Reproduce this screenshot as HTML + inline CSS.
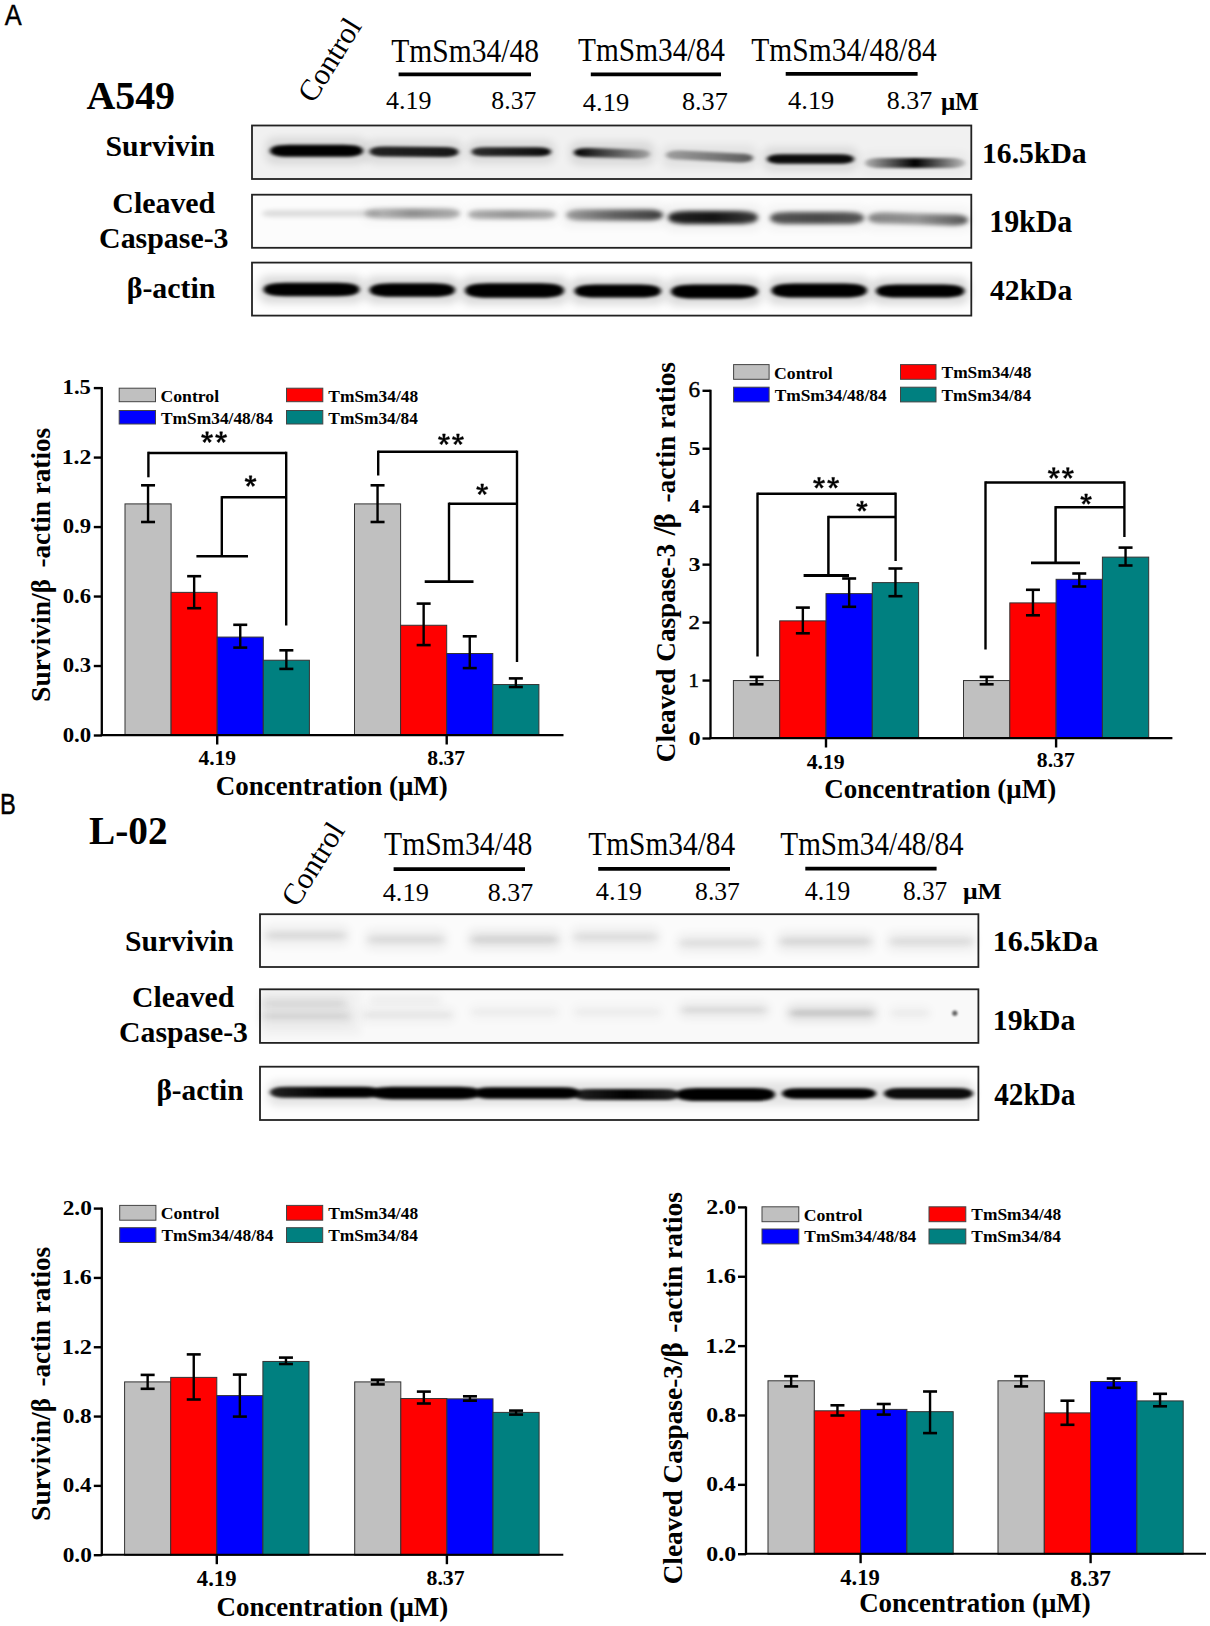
<!DOCTYPE html><html><head><meta charset="utf-8"><style>html,body{margin:0;padding:0;background:#fff}svg{display:block}</style></head><body>
<svg width="1210" height="1626" viewBox="0 0 1210 1626">
<defs><filter id="cb" x="-20%" y="-200%" width="140%" height="500%"><feGaussianBlur stdDeviation="2.2 1.4"/></filter><filter id="b1" x="-20%" y="-200%" width="140%" height="500%"><feGaussianBlur stdDeviation="2.2 1.6"/></filter><filter id="fb" x="-20%" y="-300%" width="140%" height="700%"><feGaussianBlur stdDeviation="3.5 2.6"/></filter><filter id="mb" x="-20%" y="-200%" width="140%" height="500%"><feGaussianBlur stdDeviation="2.6 2.0"/></filter><filter id="sb" x="-100%" y="-100%" width="300%" height="300%"><feGaussianBlur stdDeviation="1.2"/></filter><filter id="hb" x="-20%" y="-200%" width="140%" height="500%"><feGaussianBlur stdDeviation="5 4"/></filter></defs>
<rect width="1210" height="1626" fill="#fff"/>
<text transform="translate(4.87,24.80) scale(1,1.127)" font-family='"Liberation Sans", sans-serif' font-weight="normal" font-size="25.45" fill="#000" stroke="#000" stroke-width="0.35">A</text>
<text transform="translate(0.10,813.80) scale(1,1.264)" font-family='"Liberation Sans", sans-serif' font-weight="normal" font-size="23.74" fill="#000" stroke="#000" stroke-width="0.35">B</text>
<text x="86.40" y="109.20" font-family='"Liberation Serif", serif' font-weight="bold" font-size="39.91" fill="#000" >A549</text>
<g transform="translate(329.40,59.40) rotate(-58)"><text x="-46.51" y="10.34" font-family='"Liberation Serif", serif' font-weight="normal" font-size="30.20">Control</text></g>
<text transform="translate(391.31,62.07) scale(1,1.117)" font-family='"Liberation Serif", serif' font-weight="normal" font-size="29.57" fill="#000" >TmSm34/48</text>
<text transform="translate(578.11,61.26) scale(1,1.150)" font-family='"Liberation Serif", serif' font-weight="normal" font-size="29.37" fill="#000" >TmSm34/84</text>
<text transform="translate(751.31,61.26) scale(1,1.143)" font-family='"Liberation Serif", serif' font-weight="normal" font-size="29.54" fill="#000" >TmSm34/48/84</text>
<line x1="398.60" y1="74.30" x2="531.00" y2="74.30" stroke="#000" stroke-width="3.7"/>
<line x1="590.80" y1="74.40" x2="721.00" y2="74.40" stroke="#000" stroke-width="3.7"/>
<line x1="785.70" y1="73.80" x2="917.60" y2="73.80" stroke="#000" stroke-width="3.7"/>
<text transform="translate(385.98,109.12) scale(1,0.987)" font-family='"Liberation Serif", serif' font-weight="normal" font-size="25.98" fill="#000" >4.19</text>
<text transform="translate(491.37,109.12) scale(1,0.989)" font-family='"Liberation Serif", serif' font-weight="normal" font-size="25.71" fill="#000" >8.37</text>
<text transform="translate(582.77,110.62) scale(1,0.961)" font-family='"Liberation Serif", serif' font-weight="normal" font-size="26.51" fill="#000" >4.19</text>
<text x="681.95" y="110.31" font-family='"Liberation Serif", serif' font-weight="normal" font-size="26.19" fill="#000" >8.37</text>
<text transform="translate(788.07,108.83) scale(1,0.941)" font-family='"Liberation Serif", serif' font-weight="normal" font-size="26.45" fill="#000" >4.19</text>
<text transform="translate(886.76,108.83) scale(1,0.952)" font-family='"Liberation Serif", serif' font-weight="normal" font-size="25.95" fill="#000" >8.37</text>
<text transform="translate(940.92,109.57) scale(1,1.046)" font-family='"Liberation Serif", serif' font-weight="bold" font-size="25.05" fill="#000" >μM</text>
<rect x="252.00" y="125.50" width="719.30" height="53.50" fill="#f1f1f1" stroke="#222" stroke-width="1.8"/>
<rect x="252.00" y="194.70" width="719.30" height="53.10" fill="#fcfcfc" stroke="#222" stroke-width="1.8"/>
<rect x="252.00" y="262.60" width="719.30" height="53.00" fill="#fefefe" stroke="#222" stroke-width="1.8"/>
<linearGradient id="g1" x1="0" y1="0" x2="1" y2="0"><stop offset="0" stop-color="#000" stop-opacity="1.0"/><stop offset="1" stop-color="#000" stop-opacity="1.0"/></linearGradient>
<rect x="266.0" y="137.8" width="101.0" height="26.0" rx="8" fill="#000" opacity="0.100" filter="url(#hb)"/>
<path d="M270.0,150.8Q270.0,144.8 289.2,144.8L343.8,144.8Q363.0,144.8 363.0,150.8Q363.0,156.8 343.8,156.8L289.2,156.8Q270.0,156.8 270.0,150.8Z" fill="url(#g1)" filter="url(#cb)"/>
<linearGradient id="g2" x1="0" y1="0" x2="1" y2="0"><stop offset="0" stop-color="#000" stop-opacity="0.85"/><stop offset="1" stop-color="#000" stop-opacity="0.9"/></linearGradient>
<rect x="365.5" y="139.8" width="97.0" height="24.0" rx="8" fill="#000" opacity="0.090" filter="url(#hb)"/>
<path d="M369.5,151.5Q369.5,146.5 385.5,146.5L442.5,147.0Q458.5,147.0 458.5,152.0Q458.5,157.0 442.5,157.0L385.5,156.5Q369.5,156.5 369.5,151.5Z" fill="url(#g2)" filter="url(#cb)"/>
<linearGradient id="g3" x1="0" y1="0" x2="1" y2="0"><stop offset="0" stop-color="#000" stop-opacity="0.8"/><stop offset="1" stop-color="#000" stop-opacity="0.95"/></linearGradient>
<rect x="467.5" y="140.3" width="87.5" height="23.0" rx="8" fill="#000" opacity="0.095" filter="url(#hb)"/>
<path d="M471.5,151.8Q471.5,147.3 485.9,147.3L536.6,147.3Q551.0,147.3 551.0,151.8Q551.0,156.3 536.6,156.3L485.9,156.3Q471.5,156.3 471.5,151.8Z" fill="url(#g3)" filter="url(#cb)"/>
<linearGradient id="g4" x1="0" y1="0" x2="1" y2="0"><stop offset="0" stop-color="#000" stop-opacity="1.0"/><stop offset="1" stop-color="#000" stop-opacity="0.25"/></linearGradient>
<rect x="570.0" y="141.8" width="84.0" height="23.0" rx="8" fill="#000" opacity="0.100" filter="url(#hb)"/>
<path d="M574.0,152.5Q574.0,148.0 588.4,148.0L635.6,149.5Q650.0,149.5 650.0,154.0Q650.0,158.5 635.6,158.5L588.4,157.0Q574.0,157.0 574.0,152.5Z" fill="url(#g4)" filter="url(#cb)"/>
<linearGradient id="g5" x1="0" y1="0" x2="1" y2="0"><stop offset="0" stop-color="#000" stop-opacity="0.3"/><stop offset="1" stop-color="#000" stop-opacity="0.6"/></linearGradient>
<rect x="662.0" y="145.0" width="95.0" height="23.0" rx="8" fill="#000" opacity="0.060" filter="url(#hb)"/>
<path d="M666.0,155.0Q666.0,150.5 680.4,150.5L738.6,153.5Q753.0,153.5 753.0,158.0Q753.0,162.5 738.6,162.5L680.4,159.5Q666.0,159.5 666.0,155.0Z" fill="url(#g5)" filter="url(#cb)"/>
<linearGradient id="g6" x1="0" y1="0" x2="1" y2="0"><stop offset="0" stop-color="#000" stop-opacity="0.95"/><stop offset="1" stop-color="#000" stop-opacity="0.95"/></linearGradient>
<rect x="763.0" y="147.2" width="95.0" height="23.5" rx="8" fill="#000" opacity="0.095" filter="url(#hb)"/>
<path d="M767.0,159.0Q767.0,154.2 782.2,154.2L838.8,154.2Q854.0,154.2 854.0,159.0Q854.0,163.8 838.8,163.8L782.2,163.8Q767.0,163.8 767.0,159.0Z" fill="url(#g6)" filter="url(#cb)"/>
<linearGradient id="g7" x1="0" y1="0" x2="1" y2="0"><stop offset="0" stop-color="#000" stop-opacity="0.25"/><stop offset="0.5" stop-color="#000" stop-opacity="1.0"/><stop offset="1" stop-color="#000" stop-opacity="0.2"/></linearGradient>
<rect x="861.0" y="151.0" width="108.0" height="24.0" rx="8" fill="#000" opacity="0.025" filter="url(#hb)"/>
<path d="M865.0,163.0Q865.0,158.0 881.0,158.0L949.0,158.0Q965.0,158.0 965.0,163.0Q965.0,168.0 949.0,168.0L881.0,168.0Q865.0,168.0 865.0,163.0Z" fill="url(#g7)" filter="url(#cb)"/>
<linearGradient id="g8" x1="0" y1="0" x2="1" y2="0"><stop offset="0" stop-color="#000" stop-opacity="0.12"/><stop offset="1" stop-color="#000" stop-opacity="0.12"/></linearGradient>
<path d="M262.0,213.5Q262.0,210.0 273.2,210.0L368.8,210.0Q380.0,210.0 380.0,213.5Q380.0,217.0 368.8,217.0L273.2,217.0Q262.0,217.0 262.0,213.5Z" fill="url(#g8)" filter="url(#mb)"/>
<linearGradient id="g9" x1="0" y1="0" x2="1" y2="0"><stop offset="0" stop-color="#000" stop-opacity="0.22"/><stop offset="0.5" stop-color="#000" stop-opacity="0.42"/><stop offset="1" stop-color="#000" stop-opacity="0.3"/></linearGradient>
<rect x="361.0" y="201.5" width="103.0" height="24.0" rx="8" fill="#000" opacity="0.015" filter="url(#hb)"/>
<path d="M365.0,213.5Q365.0,208.5 381.0,208.5L444.0,208.5Q460.0,208.5 460.0,213.5Q460.0,218.5 444.0,218.5L381.0,218.5Q365.0,218.5 365.0,213.5Z" fill="url(#g9)" filter="url(#mb)"/>
<linearGradient id="g10" x1="0" y1="0" x2="1" y2="0"><stop offset="0" stop-color="#000" stop-opacity="0.3"/><stop offset="0.5" stop-color="#000" stop-opacity="0.4"/><stop offset="1" stop-color="#000" stop-opacity="0.3"/></linearGradient>
<rect x="464.0" y="203.0" width="96.0" height="23.0" rx="8" fill="#000" opacity="0.015" filter="url(#hb)"/>
<path d="M468.0,214.5Q468.0,210.0 482.4,210.0L541.6,210.0Q556.0,210.0 556.0,214.5Q556.0,219.0 541.6,219.0L482.4,219.0Q468.0,219.0 468.0,214.5Z" fill="url(#g10)" filter="url(#mb)"/>
<linearGradient id="g11" x1="0" y1="0" x2="1" y2="0"><stop offset="0" stop-color="#000" stop-opacity="0.35"/><stop offset="0.5" stop-color="#000" stop-opacity="0.6"/><stop offset="1" stop-color="#000" stop-opacity="0.75"/></linearGradient>
<rect x="562.0" y="202.5" width="105.0" height="25.0" rx="8" fill="#000" opacity="0.038" filter="url(#hb)"/>
<path d="M566.0,215.0Q566.0,209.5 583.6,209.5L645.4,209.5Q663.0,209.5 663.0,215.0Q663.0,220.5 645.4,220.5L583.6,220.5Q566.0,220.5 566.0,215.0Z" fill="url(#g11)" filter="url(#mb)"/>
<linearGradient id="g12" x1="0" y1="0" x2="1" y2="0"><stop offset="0" stop-color="#000" stop-opacity="0.85"/><stop offset="0.5" stop-color="#000" stop-opacity="0.92"/><stop offset="1" stop-color="#000" stop-opacity="0.75"/></linearGradient>
<rect x="664.0" y="204.0" width="98.0" height="27.0" rx="8" fill="#000" opacity="0.043" filter="url(#hb)"/>
<path d="M668.0,217.5Q668.0,211.0 688.8,211.0L737.2,211.0Q758.0,211.0 758.0,217.5Q758.0,224.0 737.2,224.0L688.8,224.0Q668.0,224.0 668.0,217.5Z" fill="url(#g12)" filter="url(#mb)"/>
<linearGradient id="g13" x1="0" y1="0" x2="1" y2="0"><stop offset="0" stop-color="#000" stop-opacity="0.65"/><stop offset="0.5" stop-color="#000" stop-opacity="0.7"/><stop offset="1" stop-color="#000" stop-opacity="0.65"/></linearGradient>
<rect x="766.0" y="205.0" width="102.0" height="26.0" rx="8" fill="#000" opacity="0.033" filter="url(#hb)"/>
<path d="M770.0,218.0Q770.0,212.0 789.2,212.0L844.8,212.0Q864.0,212.0 864.0,218.0Q864.0,224.0 844.8,224.0L789.2,224.0Q770.0,224.0 770.0,218.0Z" fill="url(#g13)" filter="url(#mb)"/>
<linearGradient id="g14" x1="0" y1="0" x2="1" y2="0"><stop offset="0" stop-color="#000" stop-opacity="0.45"/><stop offset="0.5" stop-color="#000" stop-opacity="0.4"/><stop offset="1" stop-color="#000" stop-opacity="0.65"/></linearGradient>
<rect x="864.0" y="206.5" width="108.0" height="25.0" rx="8" fill="#000" opacity="0.033" filter="url(#hb)"/>
<path d="M868.0,218.0Q868.0,212.5 885.6,212.5L950.4,214.5Q968.0,214.5 968.0,220.0Q968.0,225.5 950.4,225.5L885.6,223.5Q868.0,223.5 868.0,218.0Z" fill="url(#g14)" filter="url(#mb)"/>
<linearGradient id="g15" x1="0" y1="0" x2="1" y2="0"><stop offset="0" stop-color="#000" stop-opacity="1.0"/><stop offset="1" stop-color="#000" stop-opacity="1.0"/></linearGradient>
<rect x="259.5" y="275.8" width="104.0" height="27.5" rx="8" fill="#000" opacity="0.140" filter="url(#hb)"/>
<path d="M263.5,289.5Q263.5,282.8 285.1,282.8L337.9,282.8Q359.5,282.8 359.5,289.5Q359.5,296.2 337.9,296.2L285.1,296.2Q263.5,296.2 263.5,289.5Z" fill="url(#g15)" filter="url(#cb)"/>
<linearGradient id="g16" x1="0" y1="0" x2="1" y2="0"><stop offset="0" stop-color="#000" stop-opacity="1.0"/><stop offset="1" stop-color="#000" stop-opacity="1.0"/></linearGradient>
<rect x="365.5" y="276.2" width="93.5" height="27.5" rx="8" fill="#000" opacity="0.140" filter="url(#hb)"/>
<path d="M369.5,290.0Q369.5,283.2 391.1,283.2L433.4,283.2Q455.0,283.2 455.0,290.0Q455.0,296.8 433.4,296.8L391.1,296.8Q369.5,296.8 369.5,290.0Z" fill="url(#g16)" filter="url(#cb)"/>
<linearGradient id="g17" x1="0" y1="0" x2="1" y2="0"><stop offset="0" stop-color="#000" stop-opacity="1.0"/><stop offset="1" stop-color="#000" stop-opacity="1.0"/></linearGradient>
<rect x="461.0" y="276.2" width="107.0" height="28.5" rx="8" fill="#000" opacity="0.140" filter="url(#hb)"/>
<path d="M465.0,290.5Q465.0,283.2 488.2,283.2L540.8,283.2Q564.0,283.2 564.0,290.5Q564.0,297.8 540.8,297.8L488.2,297.8Q465.0,297.8 465.0,290.5Z" fill="url(#g17)" filter="url(#cb)"/>
<linearGradient id="g18" x1="0" y1="0" x2="1" y2="0"><stop offset="0" stop-color="#000" stop-opacity="1.0"/><stop offset="1" stop-color="#000" stop-opacity="1.0"/></linearGradient>
<rect x="570.5" y="277.5" width="94.5" height="27.0" rx="8" fill="#000" opacity="0.140" filter="url(#hb)"/>
<path d="M574.5,291.0Q574.5,284.5 595.3,284.5L640.2,284.5Q661.0,284.5 661.0,291.0Q661.0,297.5 640.2,297.5L595.3,297.5Q574.5,297.5 574.5,291.0Z" fill="url(#g18)" filter="url(#cb)"/>
<linearGradient id="g19" x1="0" y1="0" x2="1" y2="0"><stop offset="0" stop-color="#000" stop-opacity="1.0"/><stop offset="1" stop-color="#000" stop-opacity="1.0"/></linearGradient>
<rect x="667.0" y="277.5" width="95.0" height="28.0" rx="8" fill="#000" opacity="0.140" filter="url(#hb)"/>
<path d="M671.0,291.5Q671.0,284.5 693.4,284.5L735.6,284.5Q758.0,284.5 758.0,291.5Q758.0,298.5 735.6,298.5L693.4,298.5Q671.0,298.5 671.0,291.5Z" fill="url(#g19)" filter="url(#cb)"/>
<linearGradient id="g20" x1="0" y1="0" x2="1" y2="0"><stop offset="0" stop-color="#000" stop-opacity="1.0"/><stop offset="1" stop-color="#000" stop-opacity="1.0"/></linearGradient>
<rect x="767.5" y="276.5" width="103.5" height="28.0" rx="8" fill="#000" opacity="0.140" filter="url(#hb)"/>
<path d="M771.5,290.5Q771.5,283.5 793.9,283.5L844.6,283.5Q867.0,283.5 867.0,290.5Q867.0,297.5 844.6,297.5L793.9,297.5Q771.5,297.5 771.5,290.5Z" fill="url(#g20)" filter="url(#cb)"/>
<linearGradient id="g21" x1="0" y1="0" x2="1" y2="0"><stop offset="0" stop-color="#000" stop-opacity="1.0"/><stop offset="1" stop-color="#000" stop-opacity="1.0"/></linearGradient>
<rect x="872.0" y="277.5" width="96.5" height="27.0" rx="8" fill="#000" opacity="0.140" filter="url(#hb)"/>
<path d="M876.0,291.0Q876.0,284.5 896.8,284.5L943.7,284.5Q964.5,284.5 964.5,291.0Q964.5,297.5 943.7,297.5L896.8,297.5Q876.0,297.5 876.0,291.0Z" fill="url(#g21)" filter="url(#cb)"/>
<text x="105.56" y="156.31" font-family='"Liberation Serif", serif' font-weight="bold" font-size="29.79" fill="#000" >Survivin</text>
<text x="112.31" y="212.78" font-family='"Liberation Serif", serif' font-weight="bold" font-size="29.90" fill="#000" >Cleaved</text>
<text x="99.11" y="247.51" font-family='"Liberation Serif", serif' font-weight="bold" font-size="29.86" fill="#000" >Caspase-3</text>
<text x="126.66" y="297.78" font-family='"Liberation Serif", serif' font-weight="bold" font-size="29.90" fill="#000" >β-actin</text>
<text x="982.03" y="162.75" font-family='"Liberation Serif", serif' font-weight="bold" font-size="29.67" fill="#000" >16.5kDa</text>
<text transform="translate(989.21,232.09) scale(1,1.024)" font-family='"Liberation Serif", serif' font-weight="bold" font-size="29.91" fill="#000" >19kDa</text>
<text transform="translate(990.06,299.70) scale(1,1.011)" font-family='"Liberation Serif", serif' font-weight="bold" font-size="29.60" fill="#000" >42kDa</text>
<text transform="translate(88.91,843.99) scale(1,1.032)" font-family='"Liberation Serif", serif' font-weight="bold" font-size="39.33" fill="#000" >L-02</text>
<g transform="translate(312.80,863.60) rotate(-58)"><text x="-46.35" y="10.31" font-family='"Liberation Serif", serif' font-weight="normal" font-size="30.10">Control</text></g>
<text transform="translate(384.11,855.16) scale(1,1.153)" font-family='"Liberation Serif", serif' font-weight="normal" font-size="29.68" fill="#000" >TmSm34/48</text>
<text transform="translate(588.31,855.16) scale(1,1.165)" font-family='"Liberation Serif", serif' font-weight="normal" font-size="29.39" fill="#000" >TmSm34/84</text>
<text transform="translate(780.32,855.07) scale(1,1.141)" font-family='"Liberation Serif", serif' font-weight="normal" font-size="29.22" fill="#000" >TmSm34/48/84</text>
<line x1="393.60" y1="869.10" x2="525.00" y2="869.10" stroke="#000" stroke-width="3.8"/>
<line x1="598.20" y1="868.90" x2="730.00" y2="868.90" stroke="#000" stroke-width="3.8"/>
<line x1="805.30" y1="868.60" x2="936.60" y2="868.60" stroke="#000" stroke-width="3.8"/>
<text transform="translate(382.67,900.54) scale(1,0.921)" font-family='"Liberation Serif", serif' font-weight="normal" font-size="26.39" fill="#000" >4.19</text>
<text transform="translate(487.76,900.53) scale(1,0.946)" font-family='"Liberation Serif", serif' font-weight="normal" font-size="25.95" fill="#000" >8.37</text>
<text transform="translate(595.87,899.72) scale(1,0.960)" font-family='"Liberation Serif", serif' font-weight="normal" font-size="26.39" fill="#000" >4.19</text>
<text transform="translate(695.07,899.71) scale(1,1.020)" font-family='"Liberation Serif", serif' font-weight="normal" font-size="25.65" fill="#000" >8.37</text>
<text transform="translate(804.78,900.00) scale(1,1.019)" font-family='"Liberation Serif", serif' font-weight="normal" font-size="26.04" fill="#000" >4.19</text>
<text transform="translate(902.89,900.01) scale(1,1.038)" font-family='"Liberation Serif", serif' font-weight="normal" font-size="25.36" fill="#000" >8.37</text>
<text transform="translate(963.02,899.16) scale(1,0.932)" font-family='"Liberation Serif", serif' font-weight="bold" font-size="25.67" fill="#000" >μM</text>
<rect x="260.00" y="914.20" width="718.40" height="52.80" fill="#fbfbfb" stroke="#222" stroke-width="1.8"/>
<rect x="260.00" y="989.30" width="718.40" height="53.60" fill="#f9f9f9" stroke="#222" stroke-width="1.8"/>
<rect x="260.00" y="1066.70" width="718.40" height="53.30" fill="#fefefe" stroke="#222" stroke-width="1.8"/>
<linearGradient id="g22" x1="0" y1="0" x2="1" y2="0"><stop offset="0" stop-color="#000" stop-opacity="0.08"/><stop offset="1" stop-color="#000" stop-opacity="0.08"/></linearGradient>
<rect x="262.0" y="924.5" width="88.0" height="22.0" rx="8" fill="#000" opacity="0.048" filter="url(#hb)"/>
<path d="M266.0,935.5Q266.0,931.5 278.8,931.5L333.2,931.5Q346.0,931.5 346.0,935.5Q346.0,939.5 333.2,939.5L278.8,939.5Q266.0,939.5 266.0,935.5Z" fill="url(#g22)" filter="url(#fb)"/>
<linearGradient id="g23" x1="0" y1="0" x2="1" y2="0"><stop offset="0" stop-color="#000" stop-opacity="0.08"/><stop offset="1" stop-color="#000" stop-opacity="0.08"/></linearGradient>
<rect x="364.0" y="928.5" width="84.0" height="22.0" rx="8" fill="#000" opacity="0.048" filter="url(#hb)"/>
<path d="M368.0,939.5Q368.0,935.5 380.8,935.5L431.2,935.5Q444.0,935.5 444.0,939.5Q444.0,943.5 431.2,943.5L380.8,943.5Q368.0,943.5 368.0,939.5Z" fill="url(#g23)" filter="url(#fb)"/>
<linearGradient id="g24" x1="0" y1="0" x2="1" y2="0"><stop offset="0" stop-color="#000" stop-opacity="0.095"/><stop offset="1" stop-color="#000" stop-opacity="0.095"/></linearGradient>
<rect x="467.0" y="928.5" width="95.0" height="22.0" rx="8" fill="#000" opacity="0.057" filter="url(#hb)"/>
<path d="M471.0,939.5Q471.0,935.5 483.8,935.5L545.2,935.5Q558.0,935.5 558.0,939.5Q558.0,943.5 545.2,943.5L483.8,943.5Q471.0,943.5 471.0,939.5Z" fill="url(#g24)" filter="url(#fb)"/>
<linearGradient id="g25" x1="0" y1="0" x2="1" y2="0"><stop offset="0" stop-color="#000" stop-opacity="0.07"/><stop offset="1" stop-color="#000" stop-opacity="0.07"/></linearGradient>
<rect x="570.0" y="926.0" width="91.0" height="22.0" rx="8" fill="#000" opacity="0.042" filter="url(#hb)"/>
<path d="M574.0,937.0Q574.0,933.0 586.8,933.0L644.2,933.0Q657.0,933.0 657.0,937.0Q657.0,941.0 644.2,941.0L586.8,941.0Q574.0,941.0 574.0,937.0Z" fill="url(#g25)" filter="url(#fb)"/>
<linearGradient id="g26" x1="0" y1="0" x2="1" y2="0"><stop offset="0" stop-color="#000" stop-opacity="0.07"/><stop offset="1" stop-color="#000" stop-opacity="0.07"/></linearGradient>
<rect x="676.0" y="932.5" width="88.0" height="21.0" rx="8" fill="#000" opacity="0.042" filter="url(#hb)"/>
<path d="M680.0,943.0Q680.0,939.5 691.2,939.5L748.8,939.5Q760.0,939.5 760.0,943.0Q760.0,946.5 748.8,946.5L691.2,946.5Q680.0,946.5 680.0,943.0Z" fill="url(#g26)" filter="url(#fb)"/>
<linearGradient id="g27" x1="0" y1="0" x2="1" y2="0"><stop offset="0" stop-color="#000" stop-opacity="0.085"/><stop offset="1" stop-color="#000" stop-opacity="0.085"/></linearGradient>
<rect x="776.0" y="930.5" width="99.0" height="22.0" rx="8" fill="#000" opacity="0.051" filter="url(#hb)"/>
<path d="M780.0,941.5Q780.0,937.5 792.8,937.5L858.2,937.5Q871.0,937.5 871.0,941.5Q871.0,945.5 858.2,945.5L792.8,945.5Q780.0,945.5 780.0,941.5Z" fill="url(#g27)" filter="url(#fb)"/>
<linearGradient id="g28" x1="0" y1="0" x2="1" y2="0"><stop offset="0" stop-color="#000" stop-opacity="0.075"/><stop offset="1" stop-color="#000" stop-opacity="0.075"/></linearGradient>
<rect x="886.0" y="930.5" width="91.0" height="22.0" rx="8" fill="#000" opacity="0.045" filter="url(#hb)"/>
<path d="M890.0,941.5Q890.0,937.5 902.8,937.5L960.2,937.5Q973.0,937.5 973.0,941.5Q973.0,945.5 960.2,945.5L902.8,945.5Q890.0,945.5 890.0,941.5Z" fill="url(#g28)" filter="url(#fb)"/>
<rect x="261.00" y="990.50" width="100.00" height="45.00" fill="#000" opacity="0.03" filter="url(#hb)"/>
<linearGradient id="g29" x1="0" y1="0" x2="1" y2="0"><stop offset="0" stop-color="#000" stop-opacity="0.06"/><stop offset="1" stop-color="#000" stop-opacity="0.06"/></linearGradient>
<rect x="258.0" y="992.5" width="91.0" height="21.0" rx="8" fill="#000" opacity="0.030" filter="url(#hb)"/>
<path d="M262.0,1003.0Q262.0,999.5 273.2,999.5L333.8,999.5Q345.0,999.5 345.0,1003.0Q345.0,1006.5 333.8,1006.5L273.2,1006.5Q262.0,1006.5 262.0,1003.0Z" fill="url(#g29)" filter="url(#fb)"/>
<linearGradient id="g30" x1="0" y1="0" x2="1" y2="0"><stop offset="0" stop-color="#000" stop-opacity="0.08"/><stop offset="1" stop-color="#000" stop-opacity="0.08"/></linearGradient>
<rect x="258.0" y="1007.0" width="96.0" height="19.0" rx="8" fill="#000" opacity="0.040" filter="url(#hb)"/>
<path d="M262.0,1016.5Q262.0,1014.0 270.0,1014.0L342.0,1014.0Q350.0,1014.0 350.0,1016.5Q350.0,1019.0 342.0,1019.0L270.0,1019.0Q262.0,1019.0 262.0,1016.5Z" fill="url(#g30)" filter="url(#fb)"/>
<linearGradient id="g31" x1="0" y1="0" x2="1" y2="0"><stop offset="0" stop-color="#000" stop-opacity="0.06"/><stop offset="1" stop-color="#000" stop-opacity="0.06"/></linearGradient>
<rect x="360.0" y="1006.0" width="96.0" height="18.0" rx="8" fill="#000" opacity="0.030" filter="url(#hb)"/>
<path d="M364.0,1015.0Q364.0,1013.0 370.4,1013.0L445.6,1013.0Q452.0,1013.0 452.0,1015.0Q452.0,1017.0 445.6,1017.0L370.4,1017.0Q364.0,1017.0 364.0,1015.0Z" fill="url(#g31)" filter="url(#fb)"/>
<linearGradient id="g32" x1="0" y1="0" x2="1" y2="0"><stop offset="0" stop-color="#000" stop-opacity="0.03"/><stop offset="1" stop-color="#000" stop-opacity="0.03"/></linearGradient>
<rect x="366.0" y="990.5" width="78.0" height="19.0" rx="8" fill="#000" opacity="0.015" filter="url(#hb)"/>
<path d="M370.0,1000.0Q370.0,997.5 378.0,997.5L432.0,997.5Q440.0,997.5 440.0,1000.0Q440.0,1002.5 432.0,1002.5L378.0,1002.5Q370.0,1002.5 370.0,1000.0Z" fill="url(#g32)" filter="url(#fb)"/>
<linearGradient id="g33" x1="0" y1="0" x2="1" y2="0"><stop offset="0" stop-color="#000" stop-opacity="0.04"/><stop offset="1" stop-color="#000" stop-opacity="0.04"/></linearGradient>
<rect x="468.0" y="1003.0" width="93.0" height="18.0" rx="8" fill="#000" opacity="0.020" filter="url(#hb)"/>
<path d="M472.0,1012.0Q472.0,1010.0 478.4,1010.0L550.6,1010.0Q557.0,1010.0 557.0,1012.0Q557.0,1014.0 550.6,1014.0L478.4,1014.0Q472.0,1014.0 472.0,1012.0Z" fill="url(#g33)" filter="url(#fb)"/>
<linearGradient id="g34" x1="0" y1="0" x2="1" y2="0"><stop offset="0" stop-color="#000" stop-opacity="0.04"/><stop offset="1" stop-color="#000" stop-opacity="0.04"/></linearGradient>
<rect x="571.0" y="1003.0" width="93.0" height="18.0" rx="8" fill="#000" opacity="0.020" filter="url(#hb)"/>
<path d="M575.0,1012.0Q575.0,1010.0 581.4,1010.0L653.6,1010.0Q660.0,1010.0 660.0,1012.0Q660.0,1014.0 653.6,1014.0L581.4,1014.0Q575.0,1014.0 575.0,1012.0Z" fill="url(#g34)" filter="url(#fb)"/>
<linearGradient id="g35" x1="0" y1="0" x2="1" y2="0"><stop offset="0" stop-color="#000" stop-opacity="0.1"/><stop offset="1" stop-color="#000" stop-opacity="0.1"/></linearGradient>
<rect x="678.0" y="1001.0" width="92.0" height="18.0" rx="8" fill="#000" opacity="0.050" filter="url(#hb)"/>
<path d="M682.0,1010.0Q682.0,1008.0 688.4,1008.0L759.6,1008.0Q766.0,1008.0 766.0,1010.0Q766.0,1012.0 759.6,1012.0L688.4,1012.0Q682.0,1012.0 682.0,1010.0Z" fill="url(#g35)" filter="url(#fb)"/>
<linearGradient id="g36" x1="0" y1="0" x2="1" y2="0"><stop offset="0" stop-color="#000" stop-opacity="0.16"/><stop offset="1" stop-color="#000" stop-opacity="0.16"/></linearGradient>
<rect x="786.0" y="1003.5" width="92.0" height="19.0" rx="8" fill="#000" opacity="0.080" filter="url(#hb)"/>
<path d="M790.0,1013.0Q790.0,1010.5 798.0,1010.5L866.0,1010.5Q874.0,1010.5 874.0,1013.0Q874.0,1015.5 866.0,1015.5L798.0,1015.5Q790.0,1015.5 790.0,1013.0Z" fill="url(#g36)" filter="url(#fb)"/>
<linearGradient id="g37" x1="0" y1="0" x2="1" y2="0"><stop offset="0" stop-color="#000" stop-opacity="0.05"/><stop offset="1" stop-color="#000" stop-opacity="0.05"/></linearGradient>
<rect x="888.0" y="1004.5" width="44.0" height="17.0" rx="8" fill="#000" opacity="0.025" filter="url(#hb)"/>
<path d="M892.0,1013.0Q892.0,1011.5 896.8,1011.5L923.2,1011.5Q928.0,1011.5 928.0,1013.0Q928.0,1014.5 923.2,1014.5L896.8,1014.5Q892.0,1014.5 892.0,1013.0Z" fill="url(#g37)" filter="url(#fb)"/>
<circle cx="954.8" cy="1013.2" r="2.6" fill="#000" opacity="0.6" filter="url(#sb)"/>
<rect x="268" y="1081" width="706" height="25" rx="8" fill="#000" opacity="0.1" filter="url(#hb)"/>
<linearGradient id="g38" x1="0" y1="0" x2="1" y2="0"><stop offset="0" stop-color="#000" stop-opacity="0.85"/><stop offset="0.5" stop-color="#000" stop-opacity="1.0"/><stop offset="1" stop-color="#000" stop-opacity="1.0"/></linearGradient>
<path d="M270.0,1092.2Q270.0,1086.7 287.6,1086.7L362.4,1086.7Q380.0,1086.7 380.0,1092.2Q380.0,1097.7 362.4,1097.7L287.6,1097.7Q270.0,1097.7 270.0,1092.2Z" fill="url(#g38)" filter="url(#cb)"/>
<linearGradient id="g39" x1="0" y1="0" x2="1" y2="0"><stop offset="0" stop-color="#000" stop-opacity="1.0"/><stop offset="1" stop-color="#000" stop-opacity="1.0"/></linearGradient>
<path d="M372.0,1093.0Q372.0,1086.8 392.0,1086.8L460.0,1086.8Q480.0,1086.8 480.0,1093.0Q480.0,1099.2 460.0,1099.2L392.0,1099.2Q372.0,1099.2 372.0,1093.0Z" fill="url(#g39)" filter="url(#cb)"/>
<linearGradient id="g40" x1="0" y1="0" x2="1" y2="0"><stop offset="0" stop-color="#000" stop-opacity="1.0"/><stop offset="1" stop-color="#000" stop-opacity="1.0"/></linearGradient>
<path d="M474.0,1093.0Q474.0,1087.2 492.4,1087.2L561.6,1087.2Q580.0,1087.2 580.0,1093.0Q580.0,1098.8 561.6,1098.8L492.4,1098.8Q474.0,1098.8 474.0,1093.0Z" fill="url(#g40)" filter="url(#cb)"/>
<linearGradient id="g41" x1="0" y1="0" x2="1" y2="0"><stop offset="0" stop-color="#000" stop-opacity="0.85"/><stop offset="0.5" stop-color="#000" stop-opacity="1.0"/><stop offset="1" stop-color="#000" stop-opacity="0.85"/></linearGradient>
<path d="M574.0,1094.5Q574.0,1089.0 591.6,1089.0L662.4,1089.0Q680.0,1089.0 680.0,1094.5Q680.0,1100.0 662.4,1100.0L591.6,1100.0Q574.0,1100.0 574.0,1094.5Z" fill="url(#g41)" filter="url(#cb)"/>
<linearGradient id="g42" x1="0" y1="0" x2="1" y2="0"><stop offset="0" stop-color="#000" stop-opacity="1.0"/><stop offset="1" stop-color="#000" stop-opacity="1.0"/></linearGradient>
<path d="M676.0,1094.5Q676.0,1088.0 696.8,1088.0L754.2,1088.0Q775.0,1088.0 775.0,1094.5Q775.0,1101.0 754.2,1101.0L696.8,1101.0Q676.0,1101.0 676.0,1094.5Z" fill="url(#g42)" filter="url(#cb)"/>
<linearGradient id="g43" x1="0" y1="0" x2="1" y2="0"><stop offset="0" stop-color="#000" stop-opacity="1.0"/><stop offset="1" stop-color="#000" stop-opacity="1.0"/></linearGradient>
<path d="M782.0,1093.5Q782.0,1088.2 798.8,1088.2L859.2,1088.2Q876.0,1088.2 876.0,1093.5Q876.0,1098.8 859.2,1098.8L798.8,1098.8Q782.0,1098.8 782.0,1093.5Z" fill="url(#g43)" filter="url(#cb)"/>
<linearGradient id="g44" x1="0" y1="0" x2="1" y2="0"><stop offset="0" stop-color="#000" stop-opacity="0.95"/><stop offset="1" stop-color="#000" stop-opacity="0.95"/></linearGradient>
<path d="M884.0,1093.5Q884.0,1088.0 901.6,1088.0L955.4,1088.0Q973.0,1088.0 973.0,1093.5Q973.0,1099.0 955.4,1099.0L901.6,1099.0Q884.0,1099.0 884.0,1093.5Z" fill="url(#g44)" filter="url(#cb)"/>
<text x="124.97" y="950.61" font-family='"Liberation Serif", serif' font-weight="bold" font-size="29.65" fill="#000" >Survivin</text>
<text x="132.02" y="1006.63" font-family='"Liberation Serif", serif' font-weight="bold" font-size="29.69" fill="#000" >Cleaved</text>
<text x="119.11" y="1042.13" font-family='"Liberation Serif", serif' font-weight="bold" font-size="29.74" fill="#000" >Caspase-3</text>
<text x="156.39" y="1100.29" font-family='"Liberation Serif", serif' font-weight="bold" font-size="29.34" fill="#000" >β-actin</text>
<text x="992.81" y="950.76" font-family='"Liberation Serif", serif' font-weight="bold" font-size="29.87" fill="#000" >16.5kDa</text>
<text x="992.82" y="1029.50" font-family='"Liberation Serif", serif' font-weight="bold" font-size="29.72" fill="#000" >19kDa</text>
<text transform="translate(994.16,1104.99) scale(1,1.048)" font-family='"Liberation Serif", serif' font-weight="bold" font-size="29.24" fill="#000" >42kDa</text>
<rect x="125.00" y="503.90" width="46.10" height="231.60" fill="#c0c0c0" stroke="#333" stroke-width="1"/>
<rect x="171.10" y="592.37" width="46.10" height="143.13" fill="#ff0000" stroke="#333" stroke-width="1"/>
<rect x="217.20" y="637.07" width="46.10" height="98.43" fill="#0000ff" stroke="#333" stroke-width="1"/>
<rect x="263.30" y="660.23" width="46.10" height="75.27" fill="#008080" stroke="#333" stroke-width="1"/>
<line x1="148.05" y1="485.30" x2="148.05" y2="522.00" stroke="#000" stroke-width="2.4"/>
<line x1="141.05" y1="485.30" x2="155.05" y2="485.30" stroke="#000" stroke-width="2.6"/>
<line x1="141.05" y1="522.00" x2="155.05" y2="522.00" stroke="#000" stroke-width="2.6"/>
<line x1="194.15" y1="576.20" x2="194.15" y2="608.20" stroke="#000" stroke-width="2.4"/>
<line x1="187.15" y1="576.20" x2="201.15" y2="576.20" stroke="#000" stroke-width="2.6"/>
<line x1="187.15" y1="608.20" x2="201.15" y2="608.20" stroke="#000" stroke-width="2.6"/>
<line x1="240.25" y1="624.80" x2="240.25" y2="647.60" stroke="#000" stroke-width="2.4"/>
<line x1="233.25" y1="624.80" x2="247.25" y2="624.80" stroke="#000" stroke-width="2.6"/>
<line x1="233.25" y1="647.60" x2="247.25" y2="647.60" stroke="#000" stroke-width="2.6"/>
<line x1="286.35" y1="650.30" x2="286.35" y2="668.90" stroke="#000" stroke-width="2.4"/>
<line x1="279.35" y1="650.30" x2="293.35" y2="650.30" stroke="#000" stroke-width="2.6"/>
<line x1="279.35" y1="668.90" x2="293.35" y2="668.90" stroke="#000" stroke-width="2.6"/>
<rect x="354.50" y="503.90" width="46.10" height="231.60" fill="#c0c0c0" stroke="#333" stroke-width="1"/>
<rect x="400.60" y="625.26" width="46.10" height="110.24" fill="#ff0000" stroke="#333" stroke-width="1"/>
<rect x="446.70" y="653.51" width="46.10" height="81.99" fill="#0000ff" stroke="#333" stroke-width="1"/>
<rect x="492.80" y="684.55" width="46.10" height="50.95" fill="#008080" stroke="#333" stroke-width="1"/>
<line x1="377.55" y1="485.30" x2="377.55" y2="522.00" stroke="#000" stroke-width="2.4"/>
<line x1="370.55" y1="485.30" x2="384.55" y2="485.30" stroke="#000" stroke-width="2.6"/>
<line x1="370.55" y1="522.00" x2="384.55" y2="522.00" stroke="#000" stroke-width="2.6"/>
<line x1="423.65" y1="603.60" x2="423.65" y2="645.10" stroke="#000" stroke-width="2.4"/>
<line x1="416.65" y1="603.60" x2="430.65" y2="603.60" stroke="#000" stroke-width="2.6"/>
<line x1="416.65" y1="645.10" x2="430.65" y2="645.10" stroke="#000" stroke-width="2.6"/>
<line x1="469.75" y1="636.30" x2="469.75" y2="668.10" stroke="#000" stroke-width="2.4"/>
<line x1="462.75" y1="636.30" x2="476.75" y2="636.30" stroke="#000" stroke-width="2.6"/>
<line x1="462.75" y1="668.10" x2="476.75" y2="668.10" stroke="#000" stroke-width="2.6"/>
<line x1="515.85" y1="678.40" x2="515.85" y2="687.00" stroke="#000" stroke-width="2.4"/>
<line x1="508.85" y1="678.40" x2="522.85" y2="678.40" stroke="#000" stroke-width="2.6"/>
<line x1="508.85" y1="687.00" x2="522.85" y2="687.00" stroke="#000" stroke-width="2.6"/>
<line x1="100.70" y1="735.10" x2="563.50" y2="735.10" stroke="#000" stroke-width="2.1"/>
<line x1="101.80" y1="736.10" x2="101.80" y2="387.10" stroke="#000" stroke-width="2.3"/>
<line x1="93.80" y1="735.50" x2="101.80" y2="735.50" stroke="#000" stroke-width="2.4"/>
<line x1="93.80" y1="666.02" x2="101.80" y2="666.02" stroke="#000" stroke-width="2.4"/>
<line x1="93.80" y1="596.54" x2="101.80" y2="596.54" stroke="#000" stroke-width="2.4"/>
<line x1="93.80" y1="527.06" x2="101.80" y2="527.06" stroke="#000" stroke-width="2.4"/>
<line x1="93.80" y1="457.58" x2="101.80" y2="457.58" stroke="#000" stroke-width="2.4"/>
<line x1="93.80" y1="388.10" x2="101.80" y2="388.10" stroke="#000" stroke-width="2.4"/>
<line x1="217.20" y1="735.50" x2="217.20" y2="744.50" stroke="#000" stroke-width="2.4"/>
<line x1="446.70" y1="735.50" x2="446.70" y2="744.50" stroke="#000" stroke-width="2.4"/>
<rect x="119.20" y="388.20" width="36.30" height="13.50" fill="#c0c0c0" stroke="#444" stroke-width="1"/>
<rect x="119.20" y="410.50" width="36.30" height="13.50" fill="#0000ff" stroke="#444" stroke-width="1"/>
<rect x="286.50" y="388.20" width="36.30" height="13.50" fill="#ff0000" stroke="#444" stroke-width="1"/>
<rect x="286.50" y="410.50" width="36.30" height="13.50" fill="#008080" stroke="#444" stroke-width="1"/>
<text transform="translate(160.41,402.23) scale(1,0.985)" font-family='"Liberation Serif", serif' font-weight="bold" font-size="17.72" fill="#000" >Control</text>
<text x="161.04" y="423.97" font-family='"Liberation Serif", serif' font-weight="bold" font-size="17.39" fill="#000" >TmSm34/48/84</text>
<text x="328.34" y="401.67" font-family='"Liberation Serif", serif' font-weight="bold" font-size="17.40" fill="#000" >TmSm34/48</text>
<text x="328.34" y="423.94" font-family='"Liberation Serif", serif' font-weight="bold" font-size="17.35" fill="#000" >TmSm34/84</text>
<text transform="translate(62.69,741.90) scale(1,0.883)" font-family='"Liberation Serif", serif' font-weight="bold" font-size="22.82" fill="#000" >0.0</text>
<text transform="translate(62.69,672.42) scale(1,0.887)" font-family='"Liberation Serif", serif' font-weight="bold" font-size="22.72" fill="#000" >0.3</text>
<text transform="translate(62.69,602.94) scale(1,0.890)" font-family='"Liberation Serif", serif' font-weight="bold" font-size="22.63" fill="#000" >0.6</text>
<text transform="translate(62.69,533.46) scale(1,0.887)" font-family='"Liberation Serif", serif' font-weight="bold" font-size="22.72" fill="#000" >0.9</text>
<text transform="translate(61.70,463.98) scale(1,0.855)" font-family='"Liberation Serif", serif' font-weight="bold" font-size="23.73" fill="#000" >1.2</text>
<text transform="translate(62.60,393.78) scale(1,0.939)" font-family='"Liberation Serif", serif' font-weight="bold" font-size="22.56" fill="#000" >1.5</text>
<text x="198.38" y="765.21" font-family='"Liberation Serif", serif' font-weight="bold" font-size="21.53" fill="#000" >4.19</text>
<text x="427.34" y="765.16" font-family='"Liberation Serif", serif' font-weight="bold" font-size="21.60" fill="#000" >8.37</text>
<text x="215.85" y="795.26" font-family='"Liberation Serif", serif' font-weight="bold" font-size="27.00" fill="#000" >Concentration (μM)</text>
<text transform="translate(49.50,701.91) rotate(-90)" font-family='"Liberation Serif", serif' font-weight="bold" font-size="27.54">Survivin/</text>
<text transform="translate(49.50,593.28) rotate(-90)" font-family='"Liberation Serif", serif' font-weight="bold" font-size="26.90">β</text>
<text transform="translate(49.50,567.55) rotate(-90)" font-family='"Liberation Serif", serif' font-weight="bold" font-size="27.20">-actin ratios</text>
<line x1="148.40" y1="452.90" x2="286.20" y2="452.90" stroke="#000" stroke-width="2.5"/>
<line x1="148.40" y1="451.70" x2="148.40" y2="477.30" stroke="#000" stroke-width="2.4"/>
<line x1="286.20" y1="451.70" x2="286.20" y2="625.50" stroke="#000" stroke-width="2.4"/>
<line x1="378.20" y1="451.80" x2="517.00" y2="451.80" stroke="#000" stroke-width="2.5"/>
<line x1="378.20" y1="450.60" x2="378.20" y2="475.50" stroke="#000" stroke-width="2.4"/>
<line x1="517.00" y1="450.60" x2="517.00" y2="662.00" stroke="#000" stroke-width="2.4"/>
<line x1="221.80" y1="497.30" x2="286.20" y2="497.30" stroke="#000" stroke-width="2.5"/>
<line x1="221.80" y1="496.10" x2="221.80" y2="556.20" stroke="#000" stroke-width="2.4"/>
<line x1="196.40" y1="556.20" x2="248.00" y2="556.20" stroke="#000" stroke-width="2.6"/>
<line x1="449.00" y1="503.80" x2="517.00" y2="503.80" stroke="#000" stroke-width="2.5"/>
<line x1="449.00" y1="502.60" x2="449.00" y2="581.60" stroke="#000" stroke-width="2.4"/>
<line x1="424.70" y1="581.60" x2="473.50" y2="581.60" stroke="#000" stroke-width="2.6"/>
<path d="M207.67,437.38L208.42,431.85L205.72,431.85L206.47,437.38ZM207.26,437.95L212.75,436.95L211.92,434.39L206.89,436.81ZM207.26,436.81L202.23,434.39L201.40,436.95L206.89,437.95ZM206.59,437.73L209.23,442.64L211.42,441.06L207.56,437.03ZM206.59,437.03L202.73,441.06L204.92,442.64L207.56,437.73Z" fill="#000" stroke="#000" stroke-width="0.5" stroke-linejoin="round"/>
<path d="M221.72,437.38L222.47,431.85L219.78,431.85L220.53,437.38ZM221.31,437.95L226.80,436.95L225.97,434.39L220.94,436.81ZM221.31,436.81L216.28,434.39L215.45,436.95L220.94,437.95ZM220.64,437.73L223.28,442.64L225.47,441.06L221.61,437.03ZM220.64,437.03L216.78,441.06L218.97,442.64L221.61,437.73Z" fill="#000" stroke="#000" stroke-width="0.5" stroke-linejoin="round"/>
<path d="M251.15,481.32L251.90,475.85L249.20,475.85L249.95,481.32ZM250.74,481.89L256.17,480.92L255.34,478.35L250.36,480.75ZM250.74,480.75L245.76,478.35L244.93,480.92L250.36,481.89ZM250.06,481.68L252.67,486.54L254.86,484.96L251.04,480.97ZM250.06,480.97L246.24,484.96L248.43,486.54L251.04,481.68Z" fill="#000" stroke="#000" stroke-width="0.5" stroke-linejoin="round"/>
<path d="M444.55,439.48L445.30,433.95L442.60,433.95L443.35,439.48ZM444.14,440.05L449.62,439.05L448.79,436.49L443.76,438.91ZM444.14,438.91L439.11,436.49L438.28,439.05L443.76,440.05ZM443.46,439.83L446.11,444.74L448.29,443.16L444.44,439.13ZM443.46,439.13L439.61,443.16L441.79,444.74L444.44,439.83Z" fill="#000" stroke="#000" stroke-width="0.5" stroke-linejoin="round"/>
<path d="M458.55,439.48L459.30,433.95L456.60,433.95L457.35,439.48ZM458.14,440.05L463.62,439.05L462.79,436.49L457.76,438.91ZM458.14,438.91L453.11,436.49L452.28,439.05L457.76,440.05ZM457.46,439.83L460.11,444.74L462.29,443.16L458.44,439.13ZM457.46,439.13L453.61,443.16L455.79,444.74L458.44,439.83Z" fill="#000" stroke="#000" stroke-width="0.5" stroke-linejoin="round"/>
<path d="M482.80,489.48L483.55,483.95L480.85,483.95L481.60,489.48ZM482.39,490.05L487.87,489.05L487.04,486.49L482.01,488.91ZM482.39,488.91L477.36,486.49L476.53,489.05L482.01,490.05ZM481.71,489.83L484.36,494.74L486.54,493.16L482.69,489.13ZM481.71,489.13L477.86,493.16L480.04,494.74L482.69,489.83Z" fill="#000" stroke="#000" stroke-width="0.5" stroke-linejoin="round"/>
<rect x="733.40" y="680.55" width="46.30" height="57.95" fill="#c0c0c0" stroke="#333" stroke-width="1"/>
<rect x="779.70" y="620.86" width="46.30" height="117.64" fill="#ff0000" stroke="#333" stroke-width="1"/>
<rect x="826.00" y="593.62" width="46.30" height="144.88" fill="#0000ff" stroke="#333" stroke-width="1"/>
<rect x="872.30" y="582.61" width="46.30" height="155.89" fill="#008080" stroke="#333" stroke-width="1"/>
<line x1="756.55" y1="676.90" x2="756.55" y2="684.30" stroke="#000" stroke-width="2.4"/>
<line x1="749.55" y1="676.90" x2="763.55" y2="676.90" stroke="#000" stroke-width="2.6"/>
<line x1="749.55" y1="684.30" x2="763.55" y2="684.30" stroke="#000" stroke-width="2.6"/>
<line x1="802.85" y1="607.60" x2="802.85" y2="633.30" stroke="#000" stroke-width="2.4"/>
<line x1="795.85" y1="607.60" x2="809.85" y2="607.60" stroke="#000" stroke-width="2.6"/>
<line x1="795.85" y1="633.30" x2="809.85" y2="633.30" stroke="#000" stroke-width="2.6"/>
<line x1="849.15" y1="578.50" x2="849.15" y2="606.80" stroke="#000" stroke-width="2.4"/>
<line x1="842.15" y1="578.50" x2="856.15" y2="578.50" stroke="#000" stroke-width="2.6"/>
<line x1="842.15" y1="606.80" x2="856.15" y2="606.80" stroke="#000" stroke-width="2.6"/>
<line x1="895.45" y1="568.50" x2="895.45" y2="596.20" stroke="#000" stroke-width="2.4"/>
<line x1="888.45" y1="568.50" x2="902.45" y2="568.50" stroke="#000" stroke-width="2.6"/>
<line x1="888.45" y1="596.20" x2="902.45" y2="596.20" stroke="#000" stroke-width="2.6"/>
<rect x="963.50" y="680.55" width="46.30" height="57.95" fill="#c0c0c0" stroke="#333" stroke-width="1"/>
<rect x="1009.80" y="602.90" width="46.30" height="135.60" fill="#ff0000" stroke="#333" stroke-width="1"/>
<rect x="1056.10" y="579.31" width="46.30" height="159.19" fill="#0000ff" stroke="#333" stroke-width="1"/>
<rect x="1102.40" y="557.12" width="46.30" height="181.38" fill="#008080" stroke="#333" stroke-width="1"/>
<line x1="986.65" y1="676.90" x2="986.65" y2="684.30" stroke="#000" stroke-width="2.4"/>
<line x1="979.65" y1="676.90" x2="993.65" y2="676.90" stroke="#000" stroke-width="2.6"/>
<line x1="979.65" y1="684.30" x2="993.65" y2="684.30" stroke="#000" stroke-width="2.6"/>
<line x1="1032.95" y1="589.80" x2="1032.95" y2="615.30" stroke="#000" stroke-width="2.4"/>
<line x1="1025.95" y1="589.80" x2="1039.95" y2="589.80" stroke="#000" stroke-width="2.6"/>
<line x1="1025.95" y1="615.30" x2="1039.95" y2="615.30" stroke="#000" stroke-width="2.6"/>
<line x1="1079.25" y1="573.50" x2="1079.25" y2="586.50" stroke="#000" stroke-width="2.4"/>
<line x1="1072.25" y1="573.50" x2="1086.25" y2="573.50" stroke="#000" stroke-width="2.6"/>
<line x1="1072.25" y1="586.50" x2="1086.25" y2="586.50" stroke="#000" stroke-width="2.6"/>
<line x1="1125.55" y1="547.60" x2="1125.55" y2="565.50" stroke="#000" stroke-width="2.4"/>
<line x1="1118.55" y1="547.60" x2="1132.55" y2="547.60" stroke="#000" stroke-width="2.6"/>
<line x1="1118.55" y1="565.50" x2="1132.55" y2="565.50" stroke="#000" stroke-width="2.6"/>
<line x1="709.40" y1="738.10" x2="1172.40" y2="738.10" stroke="#000" stroke-width="2.1"/>
<line x1="710.50" y1="739.10" x2="710.50" y2="389.80" stroke="#000" stroke-width="2.3"/>
<line x1="702.50" y1="738.50" x2="710.50" y2="738.50" stroke="#000" stroke-width="2.4"/>
<line x1="702.50" y1="680.55" x2="710.50" y2="680.55" stroke="#000" stroke-width="2.4"/>
<line x1="702.50" y1="622.60" x2="710.50" y2="622.60" stroke="#000" stroke-width="2.4"/>
<line x1="702.50" y1="564.65" x2="710.50" y2="564.65" stroke="#000" stroke-width="2.4"/>
<line x1="702.50" y1="506.70" x2="710.50" y2="506.70" stroke="#000" stroke-width="2.4"/>
<line x1="702.50" y1="448.75" x2="710.50" y2="448.75" stroke="#000" stroke-width="2.4"/>
<line x1="702.50" y1="390.80" x2="710.50" y2="390.80" stroke="#000" stroke-width="2.4"/>
<line x1="826.00" y1="738.50" x2="826.00" y2="747.50" stroke="#000" stroke-width="2.4"/>
<line x1="1056.10" y1="738.50" x2="1056.10" y2="747.50" stroke="#000" stroke-width="2.4"/>
<rect x="733.60" y="364.60" width="35.50" height="14.70" fill="#c0c0c0" stroke="#444" stroke-width="1"/>
<rect x="733.60" y="387.20" width="35.50" height="14.70" fill="#0000ff" stroke="#444" stroke-width="1"/>
<rect x="900.50" y="364.60" width="35.50" height="14.70" fill="#ff0000" stroke="#444" stroke-width="1"/>
<rect x="900.50" y="387.20" width="35.50" height="14.70" fill="#008080" stroke="#444" stroke-width="1"/>
<text transform="translate(774.01,378.63) scale(1,0.985)" font-family='"Liberation Serif", serif' font-weight="bold" font-size="17.72" fill="#000" >Control</text>
<text x="774.64" y="400.67" font-family='"Liberation Serif", serif' font-weight="bold" font-size="17.39" fill="#000" >TmSm34/48/84</text>
<text x="941.54" y="378.07" font-family='"Liberation Serif", serif' font-weight="bold" font-size="17.40" fill="#000" >TmSm34/48</text>
<text x="941.54" y="400.64" font-family='"Liberation Serif", serif' font-weight="bold" font-size="17.35" fill="#000" >TmSm34/84</text>
<text transform="translate(688.43,744.91) scale(1,0.793)" font-family='"Liberation Serif", serif' font-weight="bold" font-size="24.29" fill="#000" >0</text>
<text transform="translate(688.62,686.95) scale(1,0.937)" font-family='"Liberation Serif", serif' font-weight="normal" font-size="20.86" fill="#000" stroke="#000" stroke-width="0.5">1</text>
<text transform="translate(688.58,629.00) scale(1,0.859)" font-family='"Liberation Serif", serif' font-weight="normal" font-size="22.75" fill="#000" stroke="#000" stroke-width="0.5">2</text>
<text transform="translate(688.44,571.06) scale(1,0.808)" font-family='"Liberation Serif", serif' font-weight="bold" font-size="24.00" fill="#000" >3</text>
<text transform="translate(689.07,513.30) scale(1,0.898)" font-family='"Liberation Serif", serif' font-weight="bold" font-size="21.94" fill="#000" >4</text>
<text transform="translate(688.44,455.15) scale(1,0.815)" font-family='"Liberation Serif", serif' font-weight="bold" font-size="24.00" fill="#000" >5</text>
<text transform="translate(688.55,397.37) scale(1,0.974)" font-family='"Liberation Serif", serif' font-weight="normal" font-size="23.29" fill="#000" stroke="#000" stroke-width="0.45">6</text>
<text x="806.67" y="768.76" font-family='"Liberation Serif", serif' font-weight="bold" font-size="21.76" fill="#000" >4.19</text>
<text x="1036.84" y="767.10" font-family='"Liberation Serif", serif' font-weight="bold" font-size="21.66" fill="#000" >8.37</text>
<text x="824.15" y="798.37" font-family='"Liberation Serif", serif' font-weight="bold" font-size="27.00" fill="#000" >Concentration (μM)</text>
<text transform="translate(674.90,762.16) rotate(-90)" font-family='"Liberation Serif", serif' font-weight="bold" font-size="27.20">Cleaved Caspase-3</text>
<text transform="translate(674.90,535.58) rotate(-90)" font-family='"Liberation Serif", serif' font-weight="bold" font-size="31.86">/</text>
<text transform="translate(674.90,528.61) rotate(-90)" font-family='"Liberation Serif", serif' font-weight="bold" font-size="29.20">β</text>
<text transform="translate(674.90,502.56) rotate(-90)" font-family='"Liberation Serif", serif' font-weight="bold" font-size="27.36">-actin ratios</text>
<line x1="757.50" y1="493.80" x2="895.60" y2="493.80" stroke="#000" stroke-width="2.5"/>
<line x1="757.50" y1="492.60" x2="757.50" y2="656.50" stroke="#000" stroke-width="2.4"/>
<line x1="895.60" y1="492.60" x2="895.60" y2="561.00" stroke="#000" stroke-width="2.4"/>
<line x1="985.50" y1="482.50" x2="1124.40" y2="482.50" stroke="#000" stroke-width="2.5"/>
<line x1="985.50" y1="481.30" x2="985.50" y2="649.50" stroke="#000" stroke-width="2.4"/>
<line x1="1124.40" y1="481.30" x2="1124.40" y2="537.00" stroke="#000" stroke-width="2.4"/>
<line x1="828.40" y1="517.00" x2="895.60" y2="517.00" stroke="#000" stroke-width="2.5"/>
<line x1="828.40" y1="515.80" x2="828.40" y2="575.50" stroke="#000" stroke-width="2.5"/>
<line x1="803.60" y1="575.50" x2="849.00" y2="575.50" stroke="#000" stroke-width="2.8"/>
<line x1="1055.60" y1="507.30" x2="1124.40" y2="507.30" stroke="#000" stroke-width="2.5"/>
<line x1="1055.60" y1="506.10" x2="1055.60" y2="562.90" stroke="#000" stroke-width="2.5"/>
<line x1="1031.00" y1="562.90" x2="1080.00" y2="562.90" stroke="#000" stroke-width="2.8"/>
<path d="M819.63,482.98L820.38,477.45L817.68,477.45L818.43,482.98ZM819.21,483.55L824.70,482.55L823.87,479.99L818.84,482.41ZM819.21,482.41L814.18,479.99L813.35,482.55L818.84,483.55ZM818.54,483.33L821.18,488.24L823.37,486.66L819.51,482.63ZM818.54,482.63L814.68,486.66L816.87,488.24L819.51,483.33Z" fill="#000" stroke="#000" stroke-width="0.5" stroke-linejoin="round"/>
<path d="M833.77,482.98L834.52,477.45L831.82,477.45L832.57,482.98ZM833.36,483.55L838.85,482.55L838.02,479.99L832.99,482.41ZM833.36,482.41L828.33,479.99L827.50,482.55L832.99,483.55ZM832.69,483.33L835.33,488.24L837.52,486.66L833.66,482.63ZM832.69,482.63L828.83,486.66L831.02,488.24L833.66,483.33Z" fill="#000" stroke="#000" stroke-width="0.5" stroke-linejoin="round"/>
<path d="M862.55,506.35L863.30,501.15L860.60,501.15L861.35,506.35ZM862.14,506.92L867.31,506.02L866.47,503.46L861.76,505.78ZM862.14,505.78L857.43,503.46L856.59,506.02L861.76,506.92ZM861.46,506.70L863.91,511.34L866.10,509.76L862.44,505.99ZM861.46,505.99L857.80,509.76L859.99,511.34L862.44,506.70Z" fill="#000" stroke="#000" stroke-width="0.5" stroke-linejoin="round"/>
<path d="M1054.38,473.23L1055.12,467.65L1052.43,467.65L1053.18,473.23ZM1053.96,473.80L1059.50,472.79L1058.67,470.22L1053.59,472.66ZM1053.96,472.66L1048.88,470.22L1048.05,472.79L1053.59,473.80ZM1053.29,473.59L1055.96,478.54L1058.15,476.96L1054.26,472.88ZM1053.29,472.88L1049.40,476.96L1051.59,478.54L1054.26,473.59Z" fill="#000" stroke="#000" stroke-width="0.5" stroke-linejoin="round"/>
<path d="M1068.42,473.23L1069.17,467.65L1066.48,467.65L1067.23,473.23ZM1068.01,473.80L1073.55,472.79L1072.72,470.22L1067.64,472.66ZM1068.01,472.66L1062.93,470.22L1062.10,472.79L1067.64,473.80ZM1067.34,473.59L1070.01,478.54L1072.20,476.96L1068.31,472.88ZM1067.34,472.88L1063.45,476.96L1065.64,478.54L1068.31,473.59Z" fill="#000" stroke="#000" stroke-width="0.5" stroke-linejoin="round"/>
<path d="M1086.70,499.26L1087.45,493.95L1084.75,493.95L1085.50,499.26ZM1086.29,499.83L1091.56,498.90L1090.73,496.33L1085.91,498.69ZM1086.29,498.69L1081.47,496.33L1080.64,498.90L1085.91,499.83ZM1085.61,499.61L1088.13,504.34L1090.31,502.76L1086.59,498.90ZM1085.61,498.90L1081.89,502.76L1084.07,504.34L1086.59,499.61Z" fill="#000" stroke="#000" stroke-width="0.5" stroke-linejoin="round"/>
<rect x="124.60" y="1381.90" width="46.10" height="173.30" fill="#c0c0c0" stroke="#333" stroke-width="1"/>
<rect x="170.70" y="1377.39" width="46.10" height="177.81" fill="#ff0000" stroke="#333" stroke-width="1"/>
<rect x="216.80" y="1395.59" width="46.10" height="159.61" fill="#0000ff" stroke="#333" stroke-width="1"/>
<rect x="262.90" y="1361.45" width="46.10" height="193.75" fill="#008080" stroke="#333" stroke-width="1"/>
<line x1="147.65" y1="1374.90" x2="147.65" y2="1388.80" stroke="#000" stroke-width="2.4"/>
<line x1="140.65" y1="1374.90" x2="154.65" y2="1374.90" stroke="#000" stroke-width="2.6"/>
<line x1="140.65" y1="1388.80" x2="154.65" y2="1388.80" stroke="#000" stroke-width="2.6"/>
<line x1="193.75" y1="1354.40" x2="193.75" y2="1399.50" stroke="#000" stroke-width="2.4"/>
<line x1="186.75" y1="1354.40" x2="200.75" y2="1354.40" stroke="#000" stroke-width="2.6"/>
<line x1="186.75" y1="1399.50" x2="200.75" y2="1399.50" stroke="#000" stroke-width="2.6"/>
<line x1="239.85" y1="1374.60" x2="239.85" y2="1416.60" stroke="#000" stroke-width="2.4"/>
<line x1="232.85" y1="1374.60" x2="246.85" y2="1374.60" stroke="#000" stroke-width="2.6"/>
<line x1="232.85" y1="1416.60" x2="246.85" y2="1416.60" stroke="#000" stroke-width="2.6"/>
<line x1="285.95" y1="1357.60" x2="285.95" y2="1364.00" stroke="#000" stroke-width="2.4"/>
<line x1="278.95" y1="1357.60" x2="292.95" y2="1357.60" stroke="#000" stroke-width="2.6"/>
<line x1="278.95" y1="1364.00" x2="292.95" y2="1364.00" stroke="#000" stroke-width="2.6"/>
<rect x="354.70" y="1381.90" width="46.10" height="173.30" fill="#c0c0c0" stroke="#333" stroke-width="1"/>
<rect x="400.80" y="1398.54" width="46.10" height="156.66" fill="#ff0000" stroke="#333" stroke-width="1"/>
<rect x="446.90" y="1398.88" width="46.10" height="156.32" fill="#0000ff" stroke="#333" stroke-width="1"/>
<rect x="493.00" y="1412.40" width="46.10" height="142.80" fill="#008080" stroke="#333" stroke-width="1"/>
<line x1="377.75" y1="1379.70" x2="377.75" y2="1384.40" stroke="#000" stroke-width="2.4"/>
<line x1="370.75" y1="1379.70" x2="384.75" y2="1379.70" stroke="#000" stroke-width="2.6"/>
<line x1="370.75" y1="1384.40" x2="384.75" y2="1384.40" stroke="#000" stroke-width="2.6"/>
<line x1="423.85" y1="1391.60" x2="423.85" y2="1403.50" stroke="#000" stroke-width="2.4"/>
<line x1="416.85" y1="1391.60" x2="430.85" y2="1391.60" stroke="#000" stroke-width="2.6"/>
<line x1="416.85" y1="1403.50" x2="430.85" y2="1403.50" stroke="#000" stroke-width="2.6"/>
<line x1="469.95" y1="1396.30" x2="469.95" y2="1400.70" stroke="#000" stroke-width="2.4"/>
<line x1="462.95" y1="1396.30" x2="476.95" y2="1396.30" stroke="#000" stroke-width="2.6"/>
<line x1="462.95" y1="1400.70" x2="476.95" y2="1400.70" stroke="#000" stroke-width="2.6"/>
<line x1="516.05" y1="1410.60" x2="516.05" y2="1414.60" stroke="#000" stroke-width="2.4"/>
<line x1="509.05" y1="1410.60" x2="523.05" y2="1410.60" stroke="#000" stroke-width="2.6"/>
<line x1="509.05" y1="1414.60" x2="523.05" y2="1414.60" stroke="#000" stroke-width="2.6"/>
<line x1="100.70" y1="1554.80" x2="563.30" y2="1554.80" stroke="#000" stroke-width="2.1"/>
<line x1="101.80" y1="1555.80" x2="101.80" y2="1207.60" stroke="#000" stroke-width="2.3"/>
<line x1="93.80" y1="1555.20" x2="101.80" y2="1555.20" stroke="#000" stroke-width="2.4"/>
<line x1="93.80" y1="1485.88" x2="101.80" y2="1485.88" stroke="#000" stroke-width="2.4"/>
<line x1="93.80" y1="1416.56" x2="101.80" y2="1416.56" stroke="#000" stroke-width="2.4"/>
<line x1="93.80" y1="1347.24" x2="101.80" y2="1347.24" stroke="#000" stroke-width="2.4"/>
<line x1="93.80" y1="1277.92" x2="101.80" y2="1277.92" stroke="#000" stroke-width="2.4"/>
<line x1="93.80" y1="1208.60" x2="101.80" y2="1208.60" stroke="#000" stroke-width="2.4"/>
<line x1="216.80" y1="1555.20" x2="216.80" y2="1564.20" stroke="#000" stroke-width="2.4"/>
<line x1="446.90" y1="1555.20" x2="446.90" y2="1564.20" stroke="#000" stroke-width="2.4"/>
<rect x="119.70" y="1205.40" width="36.20" height="14.80" fill="#c0c0c0" stroke="#444" stroke-width="1"/>
<rect x="119.70" y="1227.70" width="36.20" height="14.80" fill="#0000ff" stroke="#444" stroke-width="1"/>
<rect x="286.50" y="1205.40" width="36.20" height="14.80" fill="#ff0000" stroke="#444" stroke-width="1"/>
<rect x="286.50" y="1227.70" width="36.20" height="14.80" fill="#008080" stroke="#444" stroke-width="1"/>
<text transform="translate(160.81,1219.43) scale(1,0.985)" font-family='"Liberation Serif", serif' font-weight="bold" font-size="17.72" fill="#000" >Control</text>
<text x="161.44" y="1241.17" font-family='"Liberation Serif", serif' font-weight="bold" font-size="17.39" fill="#000" >TmSm34/48/84</text>
<text x="328.24" y="1218.87" font-family='"Liberation Serif", serif' font-weight="bold" font-size="17.40" fill="#000" >TmSm34/48</text>
<text x="328.24" y="1241.14" font-family='"Liberation Serif", serif' font-weight="bold" font-size="17.35" fill="#000" >TmSm34/84</text>
<text transform="translate(62.67,1561.70) scale(1,0.863)" font-family='"Liberation Serif", serif' font-weight="bold" font-size="23.33" fill="#000" >0.0</text>
<text transform="translate(62.68,1492.38) scale(1,0.878)" font-family='"Liberation Serif", serif' font-weight="bold" font-size="22.94" fill="#000" >0.4</text>
<text transform="translate(62.67,1423.06) scale(1,0.867)" font-family='"Liberation Serif", serif' font-weight="bold" font-size="23.23" fill="#000" >0.8</text>
<text transform="translate(61.66,1353.74) scale(1,0.836)" font-family='"Liberation Serif", serif' font-weight="bold" font-size="24.27" fill="#000" >1.2</text>
<text transform="translate(61.68,1284.42) scale(1,0.848)" font-family='"Liberation Serif", serif' font-weight="bold" font-size="23.95" fill="#000" >1.6</text>
<text transform="translate(62.67,1215.10) scale(1,0.863)" font-family='"Liberation Serif", serif' font-weight="bold" font-size="23.33" fill="#000" >2.0</text>
<text x="196.86" y="1585.55" font-family='"Liberation Serif", serif' font-weight="bold" font-size="22.65" fill="#000" >4.19</text>
<text x="426.54" y="1585.08" font-family='"Liberation Serif", serif' font-weight="bold" font-size="21.78" fill="#000" >8.37</text>
<text x="216.45" y="1615.75" font-family='"Liberation Serif", serif' font-weight="bold" font-size="26.98" fill="#000" >Concentration (μM)</text>
<text transform="translate(49.50,1520.91) rotate(-90)" font-family='"Liberation Serif", serif' font-weight="bold" font-size="27.54">Survivin/</text>
<text transform="translate(49.50,1412.28) rotate(-90)" font-family='"Liberation Serif", serif' font-weight="bold" font-size="26.90">β</text>
<text transform="translate(49.50,1386.55) rotate(-90)" font-family='"Liberation Serif", serif' font-weight="bold" font-size="27.20">-actin ratios</text>
<rect x="768.00" y="1380.80" width="46.30" height="173.40" fill="#c0c0c0" stroke="#333" stroke-width="1"/>
<rect x="814.30" y="1410.80" width="46.30" height="143.40" fill="#ff0000" stroke="#333" stroke-width="1"/>
<rect x="860.60" y="1409.41" width="46.30" height="144.79" fill="#0000ff" stroke="#333" stroke-width="1"/>
<rect x="906.90" y="1411.67" width="46.30" height="142.53" fill="#008080" stroke="#333" stroke-width="1"/>
<line x1="791.15" y1="1376.20" x2="791.15" y2="1386.40" stroke="#000" stroke-width="2.4"/>
<line x1="784.15" y1="1376.20" x2="798.15" y2="1376.20" stroke="#000" stroke-width="2.6"/>
<line x1="784.15" y1="1386.40" x2="798.15" y2="1386.40" stroke="#000" stroke-width="2.6"/>
<line x1="837.45" y1="1405.30" x2="837.45" y2="1415.50" stroke="#000" stroke-width="2.4"/>
<line x1="830.45" y1="1405.30" x2="844.45" y2="1405.30" stroke="#000" stroke-width="2.6"/>
<line x1="830.45" y1="1415.50" x2="844.45" y2="1415.50" stroke="#000" stroke-width="2.6"/>
<line x1="883.75" y1="1404.00" x2="883.75" y2="1414.60" stroke="#000" stroke-width="2.4"/>
<line x1="876.75" y1="1404.00" x2="890.75" y2="1404.00" stroke="#000" stroke-width="2.6"/>
<line x1="876.75" y1="1414.60" x2="890.75" y2="1414.60" stroke="#000" stroke-width="2.6"/>
<line x1="930.05" y1="1391.50" x2="930.05" y2="1433.10" stroke="#000" stroke-width="2.4"/>
<line x1="923.05" y1="1391.50" x2="937.05" y2="1391.50" stroke="#000" stroke-width="2.6"/>
<line x1="923.05" y1="1433.10" x2="937.05" y2="1433.10" stroke="#000" stroke-width="2.6"/>
<rect x="998.00" y="1380.80" width="46.30" height="173.40" fill="#c0c0c0" stroke="#333" stroke-width="1"/>
<rect x="1044.30" y="1412.88" width="46.30" height="141.32" fill="#ff0000" stroke="#333" stroke-width="1"/>
<rect x="1090.60" y="1381.49" width="46.30" height="172.71" fill="#0000ff" stroke="#333" stroke-width="1"/>
<rect x="1136.90" y="1400.91" width="46.30" height="153.29" fill="#008080" stroke="#333" stroke-width="1"/>
<line x1="1021.15" y1="1376.20" x2="1021.15" y2="1386.40" stroke="#000" stroke-width="2.4"/>
<line x1="1014.15" y1="1376.20" x2="1028.15" y2="1376.20" stroke="#000" stroke-width="2.6"/>
<line x1="1014.15" y1="1386.40" x2="1028.15" y2="1386.40" stroke="#000" stroke-width="2.6"/>
<line x1="1067.45" y1="1400.70" x2="1067.45" y2="1424.80" stroke="#000" stroke-width="2.4"/>
<line x1="1060.45" y1="1400.70" x2="1074.45" y2="1400.70" stroke="#000" stroke-width="2.6"/>
<line x1="1060.45" y1="1424.80" x2="1074.45" y2="1424.80" stroke="#000" stroke-width="2.6"/>
<line x1="1113.75" y1="1378.50" x2="1113.75" y2="1387.80" stroke="#000" stroke-width="2.4"/>
<line x1="1106.75" y1="1378.50" x2="1120.75" y2="1378.50" stroke="#000" stroke-width="2.6"/>
<line x1="1106.75" y1="1387.80" x2="1120.75" y2="1387.80" stroke="#000" stroke-width="2.6"/>
<line x1="1160.05" y1="1393.80" x2="1160.05" y2="1406.30" stroke="#000" stroke-width="2.4"/>
<line x1="1153.05" y1="1393.80" x2="1167.05" y2="1393.80" stroke="#000" stroke-width="2.6"/>
<line x1="1153.05" y1="1406.30" x2="1167.05" y2="1406.30" stroke="#000" stroke-width="2.6"/>
<line x1="744.90" y1="1553.80" x2="1206.00" y2="1553.80" stroke="#000" stroke-width="2.1"/>
<line x1="746.00" y1="1554.80" x2="746.00" y2="1206.40" stroke="#000" stroke-width="2.3"/>
<line x1="738.00" y1="1554.20" x2="746.00" y2="1554.20" stroke="#000" stroke-width="2.4"/>
<line x1="738.00" y1="1484.84" x2="746.00" y2="1484.84" stroke="#000" stroke-width="2.4"/>
<line x1="738.00" y1="1415.48" x2="746.00" y2="1415.48" stroke="#000" stroke-width="2.4"/>
<line x1="738.00" y1="1346.12" x2="746.00" y2="1346.12" stroke="#000" stroke-width="2.4"/>
<line x1="738.00" y1="1276.76" x2="746.00" y2="1276.76" stroke="#000" stroke-width="2.4"/>
<line x1="738.00" y1="1207.40" x2="746.00" y2="1207.40" stroke="#000" stroke-width="2.4"/>
<line x1="860.60" y1="1554.20" x2="860.60" y2="1563.20" stroke="#000" stroke-width="2.4"/>
<line x1="1090.60" y1="1554.20" x2="1090.60" y2="1563.20" stroke="#000" stroke-width="2.4"/>
<rect x="762.00" y="1206.80" width="36.80" height="14.90" fill="#c0c0c0" stroke="#444" stroke-width="1"/>
<rect x="762.00" y="1229.00" width="36.80" height="14.90" fill="#0000ff" stroke="#444" stroke-width="1"/>
<rect x="929.00" y="1206.80" width="36.80" height="14.90" fill="#ff0000" stroke="#444" stroke-width="1"/>
<rect x="929.00" y="1229.00" width="36.80" height="14.90" fill="#008080" stroke="#444" stroke-width="1"/>
<text transform="translate(803.71,1220.83) scale(1,0.985)" font-family='"Liberation Serif", serif' font-weight="bold" font-size="17.72" fill="#000" >Control</text>
<text x="804.34" y="1242.47" font-family='"Liberation Serif", serif' font-weight="bold" font-size="17.39" fill="#000" >TmSm34/48/84</text>
<text x="971.34" y="1220.27" font-family='"Liberation Serif", serif' font-weight="bold" font-size="17.40" fill="#000" >TmSm34/48</text>
<text x="971.34" y="1242.44" font-family='"Liberation Serif", serif' font-weight="bold" font-size="17.35" fill="#000" >TmSm34/84</text>
<text transform="translate(706.35,1560.70) scale(1,0.845)" font-family='"Liberation Serif", serif' font-weight="bold" font-size="23.85" fill="#000" >0.0</text>
<text transform="translate(706.36,1491.34) scale(1,0.859)" font-family='"Liberation Serif", serif' font-weight="bold" font-size="23.45" fill="#000" >0.4</text>
<text transform="translate(706.35,1421.98) scale(1,0.848)" font-family='"Liberation Serif", serif' font-weight="bold" font-size="23.74" fill="#000" >0.8</text>
<text transform="translate(705.32,1352.62) scale(1,0.818)" font-family='"Liberation Serif", serif' font-weight="bold" font-size="24.80" fill="#000" >1.2</text>
<text transform="translate(705.34,1283.26) scale(1,0.829)" font-family='"Liberation Serif", serif' font-weight="bold" font-size="24.47" fill="#000" >1.6</text>
<text transform="translate(706.35,1213.90) scale(1,0.845)" font-family='"Liberation Serif", serif' font-weight="bold" font-size="23.85" fill="#000" >2.0</text>
<text x="840.26" y="1585.41" font-family='"Liberation Serif", serif' font-weight="bold" font-size="22.59" fill="#000" >4.19</text>
<text x="1070.18" y="1586.00" font-family='"Liberation Serif", serif' font-weight="bold" font-size="23.31" fill="#000" >8.37</text>
<text x="859.15" y="1612.43" font-family='"Liberation Serif", serif' font-weight="bold" font-size="26.95" fill="#000" >Concentration (μM)</text>
<text transform="translate(682.00,1584.37) rotate(-90)" font-family='"Liberation Serif", serif' font-weight="bold" font-size="27.32">Cleaved Caspase-3/</text>
<text transform="translate(682.00,1357.58) rotate(-90)" font-family='"Liberation Serif", serif' font-weight="bold" font-size="28.74">β</text>
<text transform="translate(682.00,1332.66) rotate(-90)" font-family='"Liberation Serif", serif' font-weight="bold" font-size="27.36">-actin ratios</text>
</svg></body></html>
